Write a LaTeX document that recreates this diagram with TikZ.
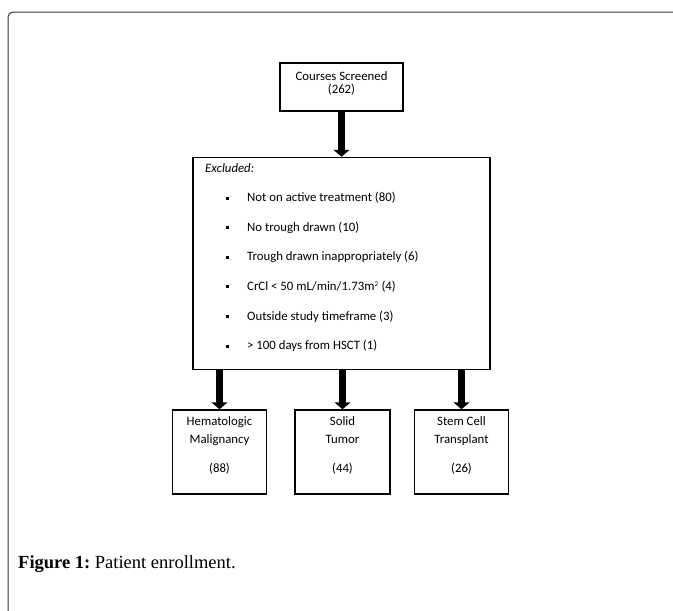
\documentclass[tikz,border=0pt]{standalone}
\usepackage{fontspec}
\setmainfont{Liberation Serif}
\newfontfamily\flowfont{Carlito}
\usetikzlibrary{positioning}
\usetikzlibrary{arrows.meta}
\frenchspacing

\tikzset{
  flowbox/.style={rectangle, draw, line width=1.5pt, inner sep=0pt},
  flowtext/.style={font=\flowfont\fontsize{12.8}{18}\selectfont, inner sep=0pt, align=center},
  itemtext/.style={font=\flowfont\fontsize{12.8}{14}\selectfont, inner sep=0pt, anchor=west},
  sqbullet/.style={rectangle, fill, minimum size=3pt, inner sep=0pt},
  fatarrow/.style={line width=7pt, -{Triangle[width=16pt,length=7pt]}},
}

\begin{document}
\begin{tikzpicture}[x=1pt,y=-1pt]
\useasboundingbox (0,0) rectangle (673,611);
\draw[line width=1pt, black!80, rounded corners=5pt](8,611)--(8,12)--(673,12);

  \node(screened)[flowbox, minimum width=123pt, minimum height=48pt] at (341.5,87) {};
  \node(screenedtxt)[flowtext] at (341.5,83) {Courses Screened\\[-5pt](262)};

  \node(excluded)[flowbox, minimum width=297pt, minimum height=212pt, below=45pt of screened] {};
  \node(exlabel)[itemtext, font=\flowfont\itshape\fontsize{12.8}{14}\selectfont] at (205,168) {Excluded:};

  \node(e1)[itemtext] at (247,198) {Not on active treatment (80)};
  \node(e2)[itemtext, below=29.6pt of e1.west, anchor=west] {No trough drawn (10)};
  \node(e3)[itemtext, below=29.6pt of e2.west, anchor=west] {Trough drawn inappropriately (6)};
  \node(e4)[itemtext, below=29.6pt of e3.west, anchor=west] {CrCl < 50 mL/min/1.73m\textsuperscript{\scriptsize 2} (4)};
  \node(e5)[itemtext, below=29.6pt of e4.west, anchor=west] {Outside study timeframe (3)};
  \node(e6)[itemtext, below=29.6pt of e5.west, anchor=west] {> 100 days from HSCT (1)};

  \node(b1)[sqbullet, left=18pt of e1.west] {};
  \node(b2)[sqbullet, left=18pt of e2.west] {};
  \node(b3)[sqbullet, left=18pt of e3.west] {};
  \node(b4)[sqbullet, left=18pt of e4.west] {};
  \node(b5)[sqbullet, left=18pt of e5.west] {};
  \node(b6)[sqbullet, left=18pt of e6.west] {};

  \node(solid)[flowbox, minimum width=95pt, minimum height=84pt, below=39pt of excluded, xshift=1pt] {};
  \node(hemat)[flowbox, minimum width=94pt, minimum height=84pt, left=27pt of solid] {};
  \node(stem)[flowbox, minimum width=94pt, minimum height=84pt, right=23pt of solid] {};

  \node(hemattxt)[flowtext, below=7pt of hemat.north] {Hematologic\\Malignancy\\[11pt](88)};
  \node(solidtxt)[flowtext, below=7pt of solid.north] {Solid\\Tumor\\[11pt](44)};
  \node(stemtxt)[flowtext, below=7pt of stem.north] {Stem Cell\\Transplant\\[11pt](26)};

\draw[fatarrow](screened.south)--(excluded.north);
\draw[fatarrow](excluded.south -| hemat.north)--(hemat.north);
\draw[fatarrow](excluded.south -| solid.north)--(solid.north);
\draw[fatarrow](excluded.south -| stem.north)--(stem.north);

 \node(caption)[anchor=west, font=\fontsize{18.5}{20}\selectfont, inner sep=0pt] at (18,564) {\textbf{Figure 1:} Patient enrollment.};

\end{tikzpicture}
\end{document}
